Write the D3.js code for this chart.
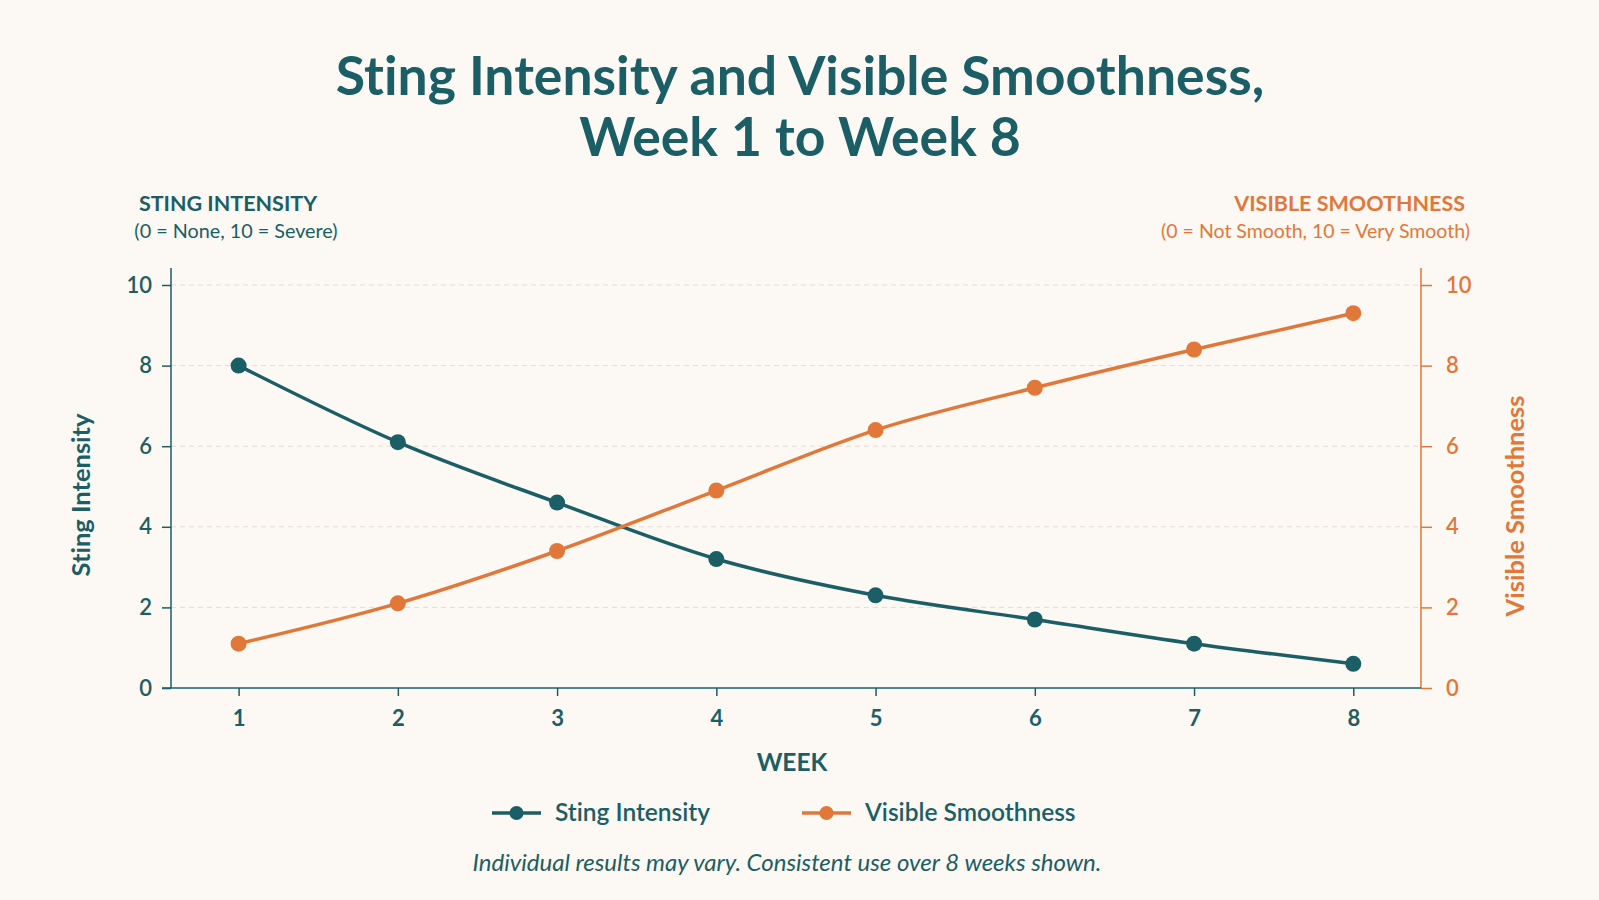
<!DOCTYPE html>
<html><head><meta charset="utf-8">
<script src="https://cdn.jsdelivr.net/npm/d3@7"></script>
<style>
html,body{margin:0;padding:0;background:#fcf8f3;}
svg{display:block;font-family:"Lato","Open Sans",sans-serif;font-variant-ligatures:none;}
</style></head>
<body><svg id="chart" width="1599" height="900"></svg>
<script>
const weeks = [1, 2, 3, 4, 5, 6, 7, 8];
const stingIntensity = [8.0, 6.1, 4.6, 3.2, 2.3, 1.7, 1.1, 0.6];
const visibleSmoothness = [1.1, 2.1, 3.4, 4.9, 6.4, 7.45, 8.4, 9.3];
const yTicks = [0, 2, 4, 6, 8, 10];
const titleLines = ["Sting Intensity and Visible Smoothness,", "Week 1 to Week 8"];
const seriesNames = ["Sting Intensity", "Visible Smoothness"];

(function(){
const TEAL = "#1b5e66", ORANGE = "#e2773a", GRID = "#e3dcd3";
const svg = d3.select("#chart");
svg.append("rect").attr("width",1599).attr("height",900).attr("fill","#fcf8f3");

const pLeft = 171, pRight = 1421, pTop = 285, pBottom = 688;
const x = d3.scaleLinear().domain([1, 8]).range([238.6, 1353.3]);
const yL = d3.scaleLinear().domain([0, 10]).range([pBottom, pTop]);
const yR = d3.scaleLinear().domain([0, 10]).range([pBottom, pTop]);

// Title
svg.append("g").selectAll("text").data(titleLines).join("text")
  .attr("x", 800).attr("y", (d,i)=>95+i*61)
  .attr("text-anchor","middle").attr("fill",TEAL)
  .attr("font-size",53.5).attr("font-weight",700).text(d=>d);

// Corner headers
svg.append("text").attr("x",228).attr("y",211).attr("text-anchor","middle")
  .attr("fill",TEAL).attr("font-size",21.5).attr("font-weight",700).text("STING INTENSITY");
svg.append("text").attr("x",236).attr("y",238).attr("text-anchor","middle")
  .attr("fill",TEAL).attr("font-size",19.8).text("(0 = None, 10 = Severe)");
svg.append("text").attr("x",1465).attr("y",211).attr("text-anchor","end")
  .attr("fill",ORANGE).attr("font-size",21.5).attr("font-weight",700).text("VISIBLE SMOOTHNESS");
svg.append("text").attr("x",1470).attr("y",238).attr("text-anchor","end")
  .attr("fill",ORANGE).attr("font-size",19.5).text("(0 = Not Smooth, 10 = Very Smooth)");

// Grid
svg.append("g").selectAll("line").data(yTicks.filter(t=>t>0)).join("line")
  .attr("x1",pLeft).attr("x2",pRight).attr("y1",d=>yL(d)).attr("y2",d=>yL(d))
  .attr("stroke",GRID).attr("stroke-width",1).attr("stroke-dasharray","5,4");

// Axes
const axL = svg.append("g").attr("transform",`translate(${pLeft},0)`)
  .call(d3.axisLeft(yL).tickValues(yTicks).tickSize(9).tickPadding(10));
axL.select(".domain").attr("d",`M0,268V${pBottom}`).attr("stroke",TEAL).attr("stroke-width",1.5);
axL.selectAll(".tick line").attr("stroke",TEAL).attr("stroke-width",1.5);
axL.selectAll("text").attr("fill",TEAL).attr("font-size",22).attr("font-weight",600)
  .attr("font-family","Lato, sans-serif");

const axR = svg.append("g").attr("transform",`translate(${pRight},0)`)
  .call(d3.axisRight(yR).tickValues(yTicks).tickSize(11).tickPadding(14));
axR.select(".domain").attr("d",`M0,268V${pBottom}`).attr("stroke",ORANGE).attr("stroke-width",1.5);
axR.selectAll(".tick line").attr("stroke",ORANGE).attr("stroke-width",1.5);
axR.selectAll("text").attr("fill",ORANGE).attr("font-size",22).attr("font-weight",600)
  .attr("font-family","Lato, sans-serif");

const axB = svg.append("g").attr("transform",`translate(0,${pBottom})`)
  .call(d3.axisBottom(x).tickValues(weeks).tickSize(8).tickPadding(14).tickFormat(d3.format("d")));
axB.select(".domain").attr("d",`M162,0H${pRight}`).attr("stroke",TEAL).attr("stroke-width",1.5);
axB.selectAll(".tick line").attr("stroke",TEAL).attr("stroke-width",1.5);
axB.selectAll("text").attr("fill",TEAL).attr("font-size",22).attr("font-weight",700)
  .attr("font-family","Lato, sans-serif");

// Axis titles
svg.append("text").attr("transform","translate(90,495) rotate(-90)").attr("text-anchor","middle")
  .attr("fill",TEAL).attr("font-size",25.5).attr("font-weight",700).text("Sting Intensity");
svg.append("text").attr("transform","translate(1524,506) rotate(-90)").attr("text-anchor","middle")
  .attr("fill",ORANGE).attr("font-size",25.5).attr("font-weight",700).text("Visible Smoothness");
svg.append("text").attr("x",792).attr("y",771).attr("text-anchor","middle")
  .attr("fill",TEAL).attr("font-size",24.5).attr("font-weight",700).text("WEEK");

// Lines
const series = [
  {name: seriesNames[0], values: stingIntensity, color: TEAL, y: yL},
  {name: seriesNames[1], values: visibleSmoothness, color: ORANGE, y: yR}
];
series.forEach(s=>{
  const line = d3.line().x((d,i)=>x(weeks[i])).y(d=>s.y(d)).curve(d3.curveMonotoneX);
  svg.append("path").datum(s.values).attr("d",line).attr("fill","none")
    .attr("stroke",s.color).attr("stroke-width",3.5).attr("stroke-linecap","round");
  svg.append("g").selectAll("circle").data(s.values).join("circle")
    .attr("cx",(d,i)=>x(weeks[i])).attr("cy",d=>s.y(d)).attr("r",8).attr("fill",s.color);
});

// Legend
const legendX = [492, 802];
series.forEach((s,i)=>{
  const g = svg.append("g").attr("transform",`translate(${legendX[i]},813)`);
  g.append("line").attr("x1",0).attr("x2",49).attr("stroke",s.color).attr("stroke-width",3.5);
  g.append("circle").attr("cx",24.5).attr("r",7).attr("fill",s.color);
  g.append("text").attr("x",63).attr("y",8).attr("fill",TEAL).attr("font-size",24.5)
    .attr("font-weight",600).text(s.name);
});

// Footer
svg.append("text").attr("x",787).attr("y",871).attr("text-anchor","middle")
  .attr("fill",TEAL).attr("font-size",24).attr("font-style","italic")
  .text("Individual results may vary. Consistent use over 8 weeks shown.");
})();
</script></body></html>
